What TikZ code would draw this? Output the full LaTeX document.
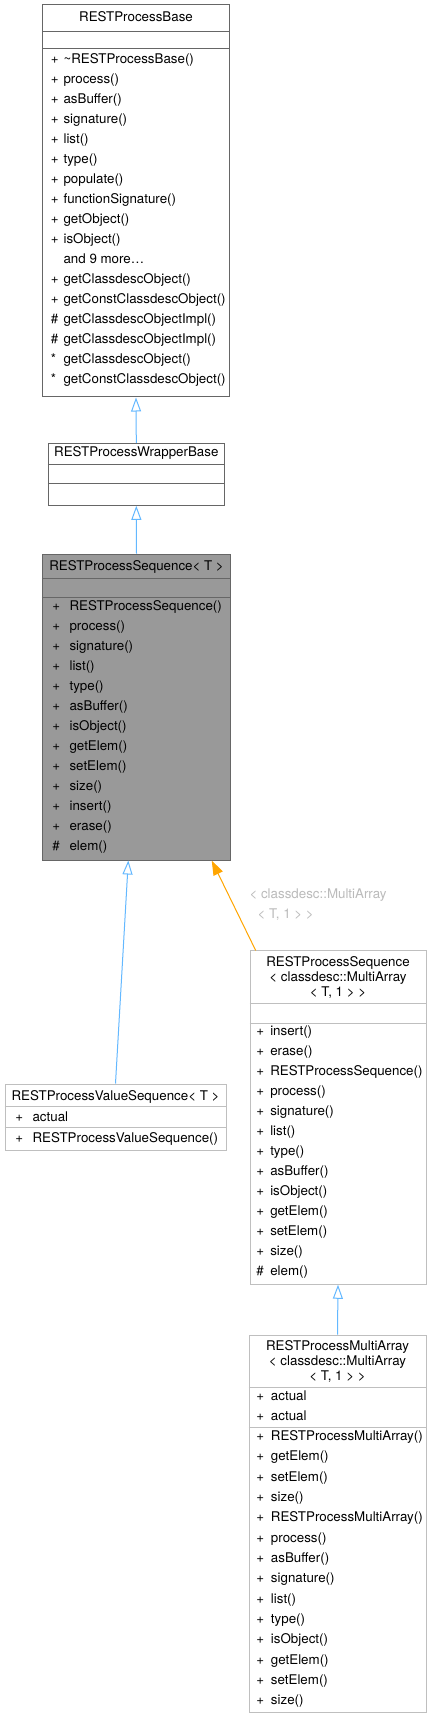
\documentclass[tikz,border=0pt]{standalone}
\usepackage{fontspec}
\setmainfont{TeX Gyre Heros}
\usetikzlibrary{arrows.meta,calc}
\pgfmathsetlengthmacro\px{0.75pt}
\definecolor{edgeblue}{HTML}{63B8FF}
\definecolor{templorange}{HTML}{FFA500}
\definecolor{darkline}{HTML}{666666}
\definecolor{lightline}{HTML}{BFBFBF}
\definecolor{boxgrey}{HTML}{999999}
\definecolor{labelgrey}{HTML}{BBBBBB}
\begin{document}
\begin{tikzpicture}[x=\px, y=-\px, font=\fontsize{10}{12}\selectfont,
  classbox/.style = {draw=darkline, line width=0.75pt, inner sep=0pt},
  lightbox/.style = {draw=lightline, line width=0.75pt, inner sep=0pt},
  member/.style = {anchor=west, inner sep=0pt, text height=7.2pt, text depth=2.1pt},
  title/.style = {inner sep=0pt, text height=7.2pt, text depth=2.1pt},
  edgelabel/.style = {member, text=labelgrey},
  inherit/.style = {draw=edgeblue, line width=0.75pt, -{Triangle[open, length=10.5pt, width=7.5pt]}},
  templ/.style = {draw=templorange, line width=0.75pt, -{Triangle[length=11pt, width=7.5pt]}}]
\fill[white] (0,0) rectangle (432,1715);
\useasboundingbox (0,0) rectangle (432,1715);
% RESTProcessBase
\node[classbox, minimum width=187*\px, minimum height=392*\px] (base) at (136,201) {};
\node[title] (basetitle) at (136,18) {RESTProcessBase};
\draw[darkline, line width=0.75pt] (base.west |- 0,32) -- (base.east |- 0,32);
\draw[darkline, line width=0.75pt] (base.west |- 0,49) -- (base.east |- 0,49);
\foreach \v/\m [count=\i from 0] in {+/{\textasciitilde RESTProcessBase()}, +/process(), +/asBuffer(), +/signature(), +/list(), +/type(), +/populate(), +/functionSignature(), +/getObject(), +/isObject(), {}/{and 9 more\ldots}, +/getClassdescObject(), +/getConstClassdescObject(), \#/getClassdescObjectImpl(), \#/getClassdescObjectImpl(), */getClassdescObject(), */getConstClassdescObject()}
{
  \node[member] (basev\i) at (50.7,60+20*\i) {\v};
  \node[member] (basem\i) at (63.3,60+20*\i) {\m};
}
% RESTProcessWrapperBase
\node[classbox, minimum width=176*\px, minimum height=62*\px] (wrapper) at (136.3,474.3) {};
\node[title] (wrappertitle) at (136.3,453.5) {RESTProcessWrapperBase};
\draw[darkline, line width=0.75pt] (wrapper.west |- 0,464.3) -- (wrapper.east |- 0,464.3);
\draw[darkline, line width=0.75pt] (wrapper.west |- 0,483.3) -- (wrapper.east |- 0,483.3);
% RESTProcessSequence< T >
\node[classbox, fill=boxgrey, minimum width=188.4*\px, minimum height=306*\px] (seq) at (136.5,707) {};
\node[title] (seqtitle) at (136.5,566.7) {RESTProcessSequence< T >};
\draw[darkline, line width=0.75pt] (seq.west |- 0,578) -- (seq.east |- 0,578);
\draw[darkline, line width=0.75pt] (seq.west |- 0,597.5) -- (seq.east |- 0,597.5);
\foreach \v/\m [count=\i from 0] in {+/RESTProcessSequence(), +/process(), +/signature(), +/list(), +/type(), +/asBuffer(), +/isObject(), +/getElem(), +/setElem(), +/size(), +/insert(), +/erase(), \#/elem()}
{
  \node[member] (seqv\i) at (52,607.5+20*\i) {\v};
  \node[member] (seqm\i) at (69.3,607.5+20*\i) {\m};
}
% RESTProcessValueSequence< T >
\node[lightbox, minimum width=221*\px, minimum height=66*\px] (valseq) at (115.5,1117) {};
\node[title] (valseqtitle) at (115.5,1097.5) {RESTProcessValueSequence< T >};
\draw[lightline, line width=0.75pt] (valseq.west |- 0,1106) -- (valseq.east |- 0,1106);
\draw[lightline, line width=0.75pt] (valseq.west |- 0,1127) -- (valseq.east |- 0,1127);
\node[member] (valseqv0) at (15,1118) {+};
\node[member] (valseqm0) at (32.3,1118) {actual};
\node[member] (valseqv1) at (15,1139) {+};
\node[member] (valseqm1) at (32.3,1139) {RESTProcessValueSequence()};
% RESTProcessSequence< classdesc::MultiArray< T, 1 > >
\node[lightbox, minimum width=176*\px, minimum height=333.3*\px] (maseq) at (338,1117.6) {};
\foreach \t [count=\i from 0] in {RESTProcessSequence, < classdesc::MultiArray, {< T, 1 > >}}
  \node[title] (maseqtitle\i) at (338,963+15*\i) {\t};
\draw[lightline, line width=0.75pt] (maseq.west |- 0,1003) -- (maseq.east |- 0,1003);
\draw[lightline, line width=0.75pt] (maseq.west |- 0,1023) -- (maseq.east |- 0,1023);
\foreach \v/\m [count=\i from 0] in {+/insert(), +/erase(), +/RESTProcessSequence(), +/process(), +/signature(), +/list(), +/type(), +/asBuffer(), +/isObject(), +/getElem(), +/setElem(), +/size(), \#/elem()}
{
  \node[member] (maseqv\i) at (256,1032.3+20*\i) {\v};
  \node[member] (maseqm\i) at (270,1032.3+20*\i) {\m};
}
% RESTProcessMultiArray< classdesc::MultiArray< T, 1 > >
\node[lightbox, minimum width=177*\px, minimum height=377*\px] (multiarr) at (337.5,1523.5) {};
\foreach \t [count=\i from 0] in {RESTProcessMultiArray, < classdesc::MultiArray, {< T, 1 > >}}
  \node[title] (multiarrtitle\i) at (337.5,1347+15*\i) {\t};
\draw[lightline, line width=0.75pt] (multiarr.west |- 0,1387) -- (multiarr.east |- 0,1387);
\draw[lightline, line width=0.75pt] (multiarr.west |- 0,1427) -- (multiarr.east |- 0,1427);
\foreach \i in {0,1}
{
  \node[member] (multiarrav\i) at (256,1397+20*\i) {+};
  \node[member] (multiarram\i) at (270.7,1397+20*\i) {actual};
}
\foreach \m [count=\i from 0] in {RESTProcessMultiArray(), getElem(), setElem(), size(), RESTProcessMultiArray(), process(), asBuffer(), signature(), list(), type(), isObject(), getElem(), setElem(), size()}
{
  \node[member] (multiarrv\i) at (256,1437+20.33*\i) {+};
  \node[member] (multiarrm\i) at (270.7,1437+20.33*\i) {\m};
}
% connectors
\coordinate (valtip) at ($(seq.south)+(-8.2,0)$);
\coordinate (templtip) at ($(seq.south)+(75.2,0)$);
\coordinate (templtail) at ($(maseq.north)+(-82.3,0)$);
\draw[inherit] (wrapper.north) -- (base.south);
\draw[inherit] (seq.north) -- (wrapper.south);
\draw[inherit] (valseq.north) -- (valtip);
\draw[templ] (templtail) -- (templtip);
\draw[inherit] (multiarr.north) -- (maseq.south);
\node[edgelabel] (templlabel0) at (249.3,895) {< classdesc::MultiArray};
\node[edgelabel] (templlabel1) at (257.3,915) {< T, 1 > >};
\end{tikzpicture}
\end{document}
